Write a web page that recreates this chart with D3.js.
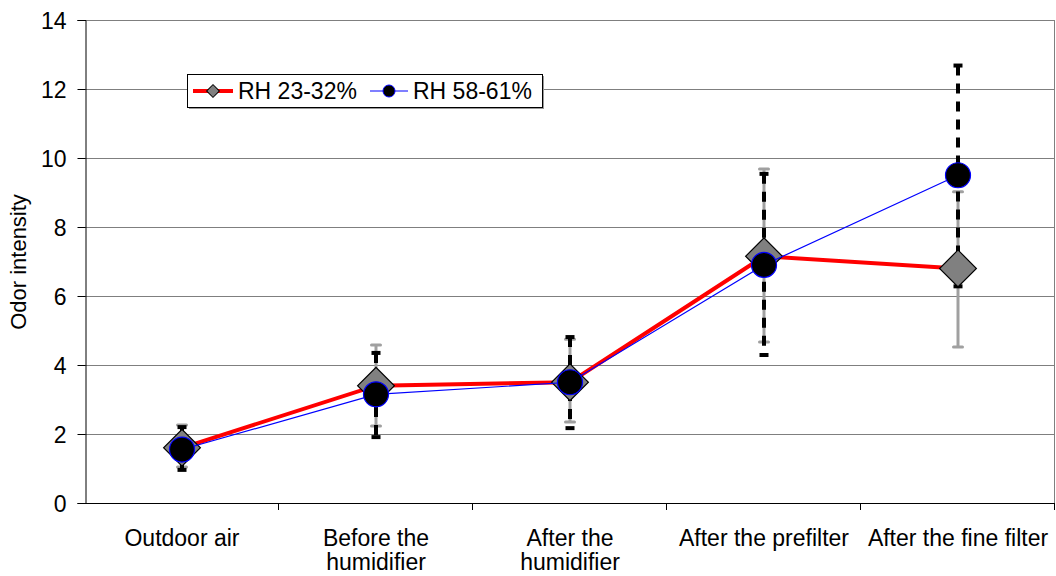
<!DOCTYPE html>
<html>
<head>
<meta charset="utf-8">
<script src="https://cdn.jsdelivr.net/npm/d3@7"></script>
<style>
  body { margin: 0; background: #fff; }
  text { font-family: "Liberation Sans", Arial, sans-serif; fill: #000; }
</style>
</head>
<body>
<div id="chart-area"></div>
<script>
// data
var categories = ["Outdoor air", "Before the humidifier", "After the humidifier", "After the prefilter", "After the fine filter"];
var catLines = [["Outdoor air"], ["Before the", "humidifier"], ["After the", "humidifier"], ["After the prefilter"], ["After the fine filter"]];
var yTicks = [0, 2, 4, 6, 8, 10, 12, 14];

var lowRH = [1.6, 3.4, 3.5, 7.15, 6.8];
var lowRHMin = [1.04, 2.23, 2.35, 4.67, 4.52];
var lowRHMax = [2.26, 4.58, 4.75, 9.68, 9.02];

var highRH = [1.55, 3.15, 3.5, 6.9, 9.5];
var highRHMin = [0.96, 1.91, 2.17, 4.29, 6.28];
var highRHMax = [2.2, 4.35, 4.81, 9.54, 12.68];

var W = 1056, H = 576;
var margin = { left: 85, right: 1, top: 20, bottom: 73 };
var width = W - margin.left - margin.right,
    height = H - margin.top - margin.bottom;

var svg = d3.select("#chart-area")
    .append("svg")
        .attr("width", W)
        .attr("height", H);

var g = svg.append("g")
    .attr("transform", "translate(" + margin.left + "," + margin.top + ")");

var x = d3.scaleBand()
    .domain(categories)
    .range([0, width])
    .padding(0);

var y = d3.scaleLinear()
    .domain([0, 14])
    .range([height, 0]);

var cx = function(i) { return x(categories[i]) + x.bandwidth() / 2; };

// gridlines
g.selectAll(".grid")
    .data(yTicks.filter(function(d) { return d > 0; }))
    .enter().append("line")
        .attr("x1", 0).attr("x2", width)
        .attr("y1", function(d) { return Math.round(y(d)) + 0.5; })
        .attr("y2", function(d) { return Math.round(y(d)) + 0.5; })
        .attr("stroke", "#7f7f7f")
        .attr("stroke-width", 1);

// right border
g.append("line")
    .attr("x1", width - 0.5).attr("x2", width - 0.5)
    .attr("y1", 0).attr("y2", height)
    .attr("stroke", "#7f7f7f");

// Y axis
var yAxis = d3.axisLeft(y).tickValues(yTicks).tickSize(8).tickPadding(11);
var yAxisGroup = g.append("g").attr("transform", "translate(0.5,0)").call(yAxis);
yAxisGroup.select(".domain").attr("stroke", "#000");
yAxisGroup.selectAll(".tick line").attr("stroke", "#000");
yAxisGroup.selectAll("text").attr("font-size", "23px").attr("dy", "0.35em");

// X axis line + ticks at band edges
g.append("line")
    .attr("x1", 0).attr("x2", width)
    .attr("y1", height + 0.5).attr("y2", height + 0.5)
    .attr("stroke", "#000");
g.selectAll(".xtick")
    .data(categories.slice(1).concat(["end"]))
    .enter().append("line")
        .attr("x1", function(d, i) { return Math.round(x.bandwidth() * (i + 1)) - 0.5; })
        .attr("x2", function(d, i) { return Math.round(x.bandwidth() * (i + 1)) - 0.5; })
        .attr("y1", height)
        .attr("y2", height + 7)
        .attr("stroke", "#000");

// category labels
catLines.forEach(function(lines, i) {
    var t = g.append("text")
        .attr("x", cx(i))
        .attr("y", height + 43)
        .attr("text-anchor", "middle")
        .attr("font-size", "23px");
    lines.forEach(function(l, j) {
        t.append("tspan")
            .attr("x", cx(i))
            .attr("dy", j === 0 ? 0 : 24)
            .text(l);
    });
});

// Y label
g.append("text")
    .attr("transform", "rotate(-90)")
    .attr("x", -(262 - margin.top))
    .attr("y", -59)
    .attr("text-anchor", "middle")
    .attr("font-size", "22px")
    .text("Odor intensity");

// error bars RH 23-32% (grey, solid)
var idx = d3.range(categories.length);
g.selectAll(".errLow")
    .data(idx)
    .enter().append("line")
        .attr("x1", cx).attr("x2", cx)
        .attr("y1", function(i) { return y(lowRHMin[i]); })
        .attr("y2", function(i) { return y(lowRHMax[i]); })
        .attr("stroke", "#a0a0a0")
        .attr("stroke-width", 3);
[lowRHMin, lowRHMax].forEach(function(arr) {
    g.selectAll(null)
        .data(idx)
        .enter().append("line")
            .attr("x1", function(i) { return cx(i) - 4.5; })
            .attr("x2", function(i) { return cx(i) + 4.5; })
            .attr("y1", function(i) { return y(arr[i]); })
            .attr("y2", function(i) { return y(arr[i]); })
            .attr("stroke", "#a0a0a0")
            .attr("stroke-width", 3)
            .attr("stroke-linecap", "round");
});

// error bars RH 58-61% (black, dashed)
g.selectAll(".errHigh")
    .data(idx)
    .enter().append("line")
        .attr("x1", cx).attr("x2", cx)
        .attr("y1", function(i) { return y(highRHMax[i]); })
        .attr("y2", function(i) { return y(highRHMin[i]); })
        .attr("stroke", "#000")
        .attr("stroke-width", 4)
        .attr("stroke-dasharray", "10,8");
[highRHMin, highRHMax].forEach(function(arr) {
    g.selectAll(null)
        .data(idx)
        .enter().append("line")
            .attr("x1", function(i) { return cx(i) - 4.5; })
            .attr("x2", function(i) { return cx(i) + 4.5; })
            .attr("y1", function(i) { return y(arr[i]); })
            .attr("y2", function(i) { return y(arr[i]); })
            .attr("stroke", "#000")
            .attr("stroke-width", 4);
});

var line = d3.line()
    .x(function(d, i) { return cx(i); })
    .y(function(d) { return y(d); });

// series RH 23-32%
g.append("path")
    .datum(lowRH)
    .attr("d", line)
    .attr("fill", "none")
    .attr("stroke", "#ff0000")
    .attr("stroke-width", 4);

var diamond = d3.symbol().type(d3.symbolSquare).size(26 * 26);
g.selectAll(".dia")
    .data(lowRH)
    .enter().append("path")
        .attr("d", diamond)
        .attr("transform", function(d, i) { return "translate(" + cx(i) + "," + y(d) + ") rotate(45)"; })
        .attr("fill", "#808080")
        .attr("stroke", "#000")
        .attr("stroke-width", 1.2);

// series RH 58-61%
g.append("path")
    .datum(highRH)
    .attr("d", line)
    .attr("fill", "none")
    .attr("stroke", "#0000ff")
    .attr("stroke-width", 1.2);

g.selectAll(".dot")
    .data(highRH)
    .enter().append("circle")
        .attr("cx", function(d, i) { return cx(i); })
        .attr("cy", function(d) { return y(d); })
        .attr("r", 12.5)
        .attr("fill", "#000")
        .attr("stroke", "#0000ff")
        .attr("stroke-width", 1.2);

// legend
var lg = svg.append("g").attr("transform", "translate(187,74)");
lg.append("rect")
    .attr("x", 2).attr("y", 2)
    .attr("width", 355).attr("height", 33)
    .attr("fill", "#999");
lg.append("rect")
    .attr("x", 0.5).attr("y", 0.5)
    .attr("width", 355).attr("height", 33)
    .attr("fill", "#fff")
    .attr("stroke", "#000");

lg.append("line")
    .attr("x1", 6).attr("x2", 46).attr("y1", 17).attr("y2", 17)
    .attr("stroke", "#ff0000").attr("stroke-width", 4);
lg.append("path")
    .attr("d", d3.symbol().type(d3.symbolSquare).size(9 * 9))
    .attr("transform", "translate(26,17) rotate(45)")
    .attr("fill", "#808080")
    .attr("stroke", "#000");
lg.append("text")
    .attr("x", 51).attr("y", 25)
    .attr("font-size", "23px")
    .text("RH 23-32%");

lg.append("line")
    .attr("x1", 183).attr("x2", 221).attr("y1", 17).attr("y2", 17)
    .attr("stroke", "#0000ff").attr("stroke-width", 1.2);
lg.append("circle")
    .attr("cx", 202).attr("cy", 17).attr("r", 6)
    .attr("fill", "#000")
    .attr("stroke", "#0000ff");
lg.append("text")
    .attr("x", 226).attr("y", 25)
    .attr("font-size", "23px")
    .text("RH 58-61%");
</script>
</body>
</html>
